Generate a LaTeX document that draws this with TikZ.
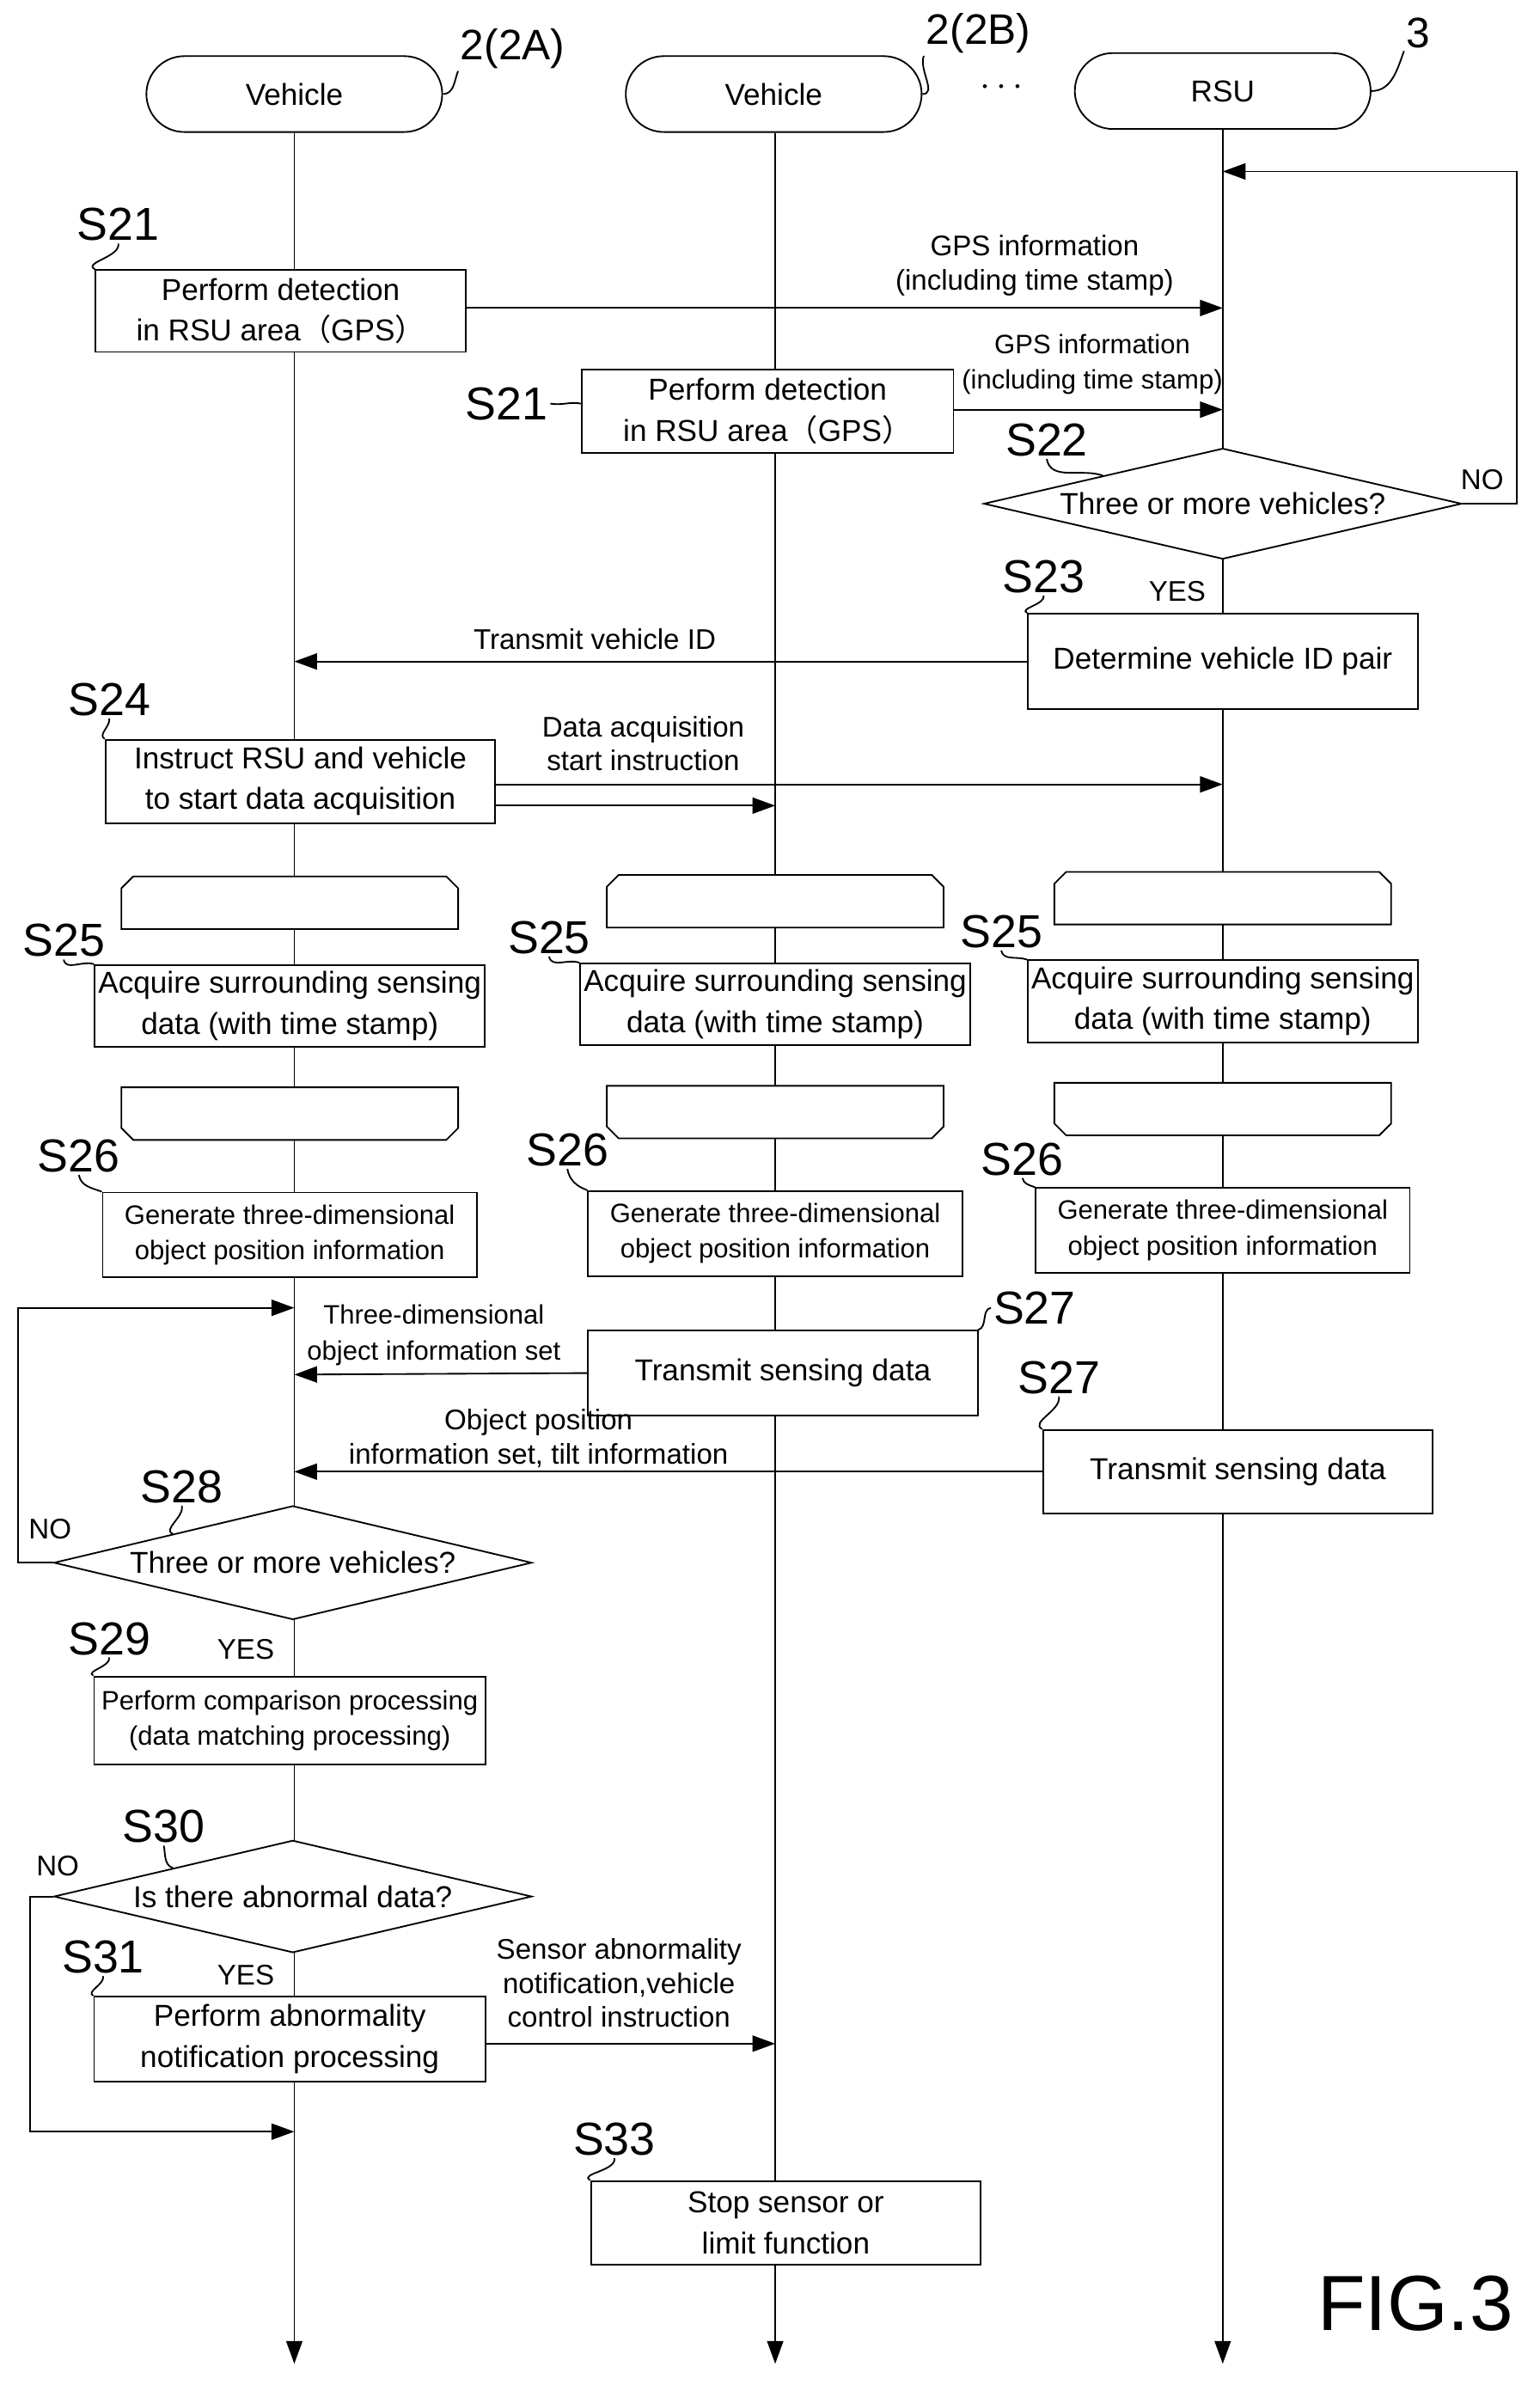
\documentclass[tikz,border=0pt]{standalone}
\usepackage{fontspec}
\setmainfont{Liberation Sans}
\newfontfamily\cjk{Noto Sans CJK SC}
\usetikzlibrary{shapes.geometric,shapes.misc,arrows.meta}
\begin{document}
\begin{tikzpicture}[x=0.3mm,y=-0.3mm,>={Triangle[length=4.5mm,width=3.2mm]},line width=0.9pt]
\tikzstyle{block}=[rectangle,draw,fill=white,align=center,font=\fontsize{17}{23}\selectfont,inner sep=1pt]
\tikzstyle{smalltext}=[font=\fontsize{15}{20}\selectfont]
\tikzstyle{head}=[rectangle,draw,fill=white,rounded corners=7.5mm,minimum width=58.5mm,minimum height=15mm,font=\fontsize{17}{20}\selectfont]
\tikzstyle{decision}=[diamond,draw,fill=white,inner sep=0pt,minimum width=94.5mm]
\tikzstyle{loopstart}=[chamfered rectangle,chamfered rectangle corners={north west,north east},chamfered rectangle xsep=2.5mm,draw,fill=white,minimum width=66.6mm,minimum height=10.4mm]
\tikzstyle{loopend}=[chamfered rectangle,chamfered rectangle corners={south west,south east},chamfered rectangle xsep=2.5mm,draw,fill=white,minimum width=66.6mm,minimum height=10.4mm]
\tikzstyle{annot}=[align=center,font=\fontsize{16}{19}\selectfont,inner sep=1pt]
\tikzstyle{steplbl}=[font=\fontsize{26}{26}\selectfont,inner sep=1pt]
\useasboundingbox (0,0) rectangle (1015,1572);
% headers
\node[head] (va) at (194,62) {Vehicle};
\node[head] (vb) at (510,62) {Vehicle};
\node[head] (rsu) at (806,60) {RSU};
\coordinate (va-end) at (194,1558);
\coordinate (vb-end) at (511,1558);
\coordinate (rsu-end) at (806,1558);
\draw[->] (va) -- (va-end);
\draw[->] (vb.south -| vb-end) -- (vb-end);
\draw[->] (rsu) -- (rsu-end);
\node[steplbl,font=\fontsize{24}{24}\selectfont] (lbl-a) at (338,32) {2(2A)};
\node[steplbl,font=\fontsize{24}{24}\selectfont] (lbl-b) at (645,22) {2(2B)};
\node[font=\fontsize{22}{22}\selectfont] (dots) at (660,58) {$\cdots$};
\node[steplbl,font=\fontsize{24}{24}\selectfont] (lbl-r) at (935,22) {3};
\draw (va.east) to[out=0,in=-110] (lbl-a.south west);
\draw (vb.east) to[out=0,in=-110] (lbl-b.south west);
\draw (rsu.east) to[out=0,in=-110] (lbl-r.south west);
% S21, S22
\node[block,minimum width=73.2mm,minimum height=16.2mm] (s21a) at (185,205) {Perform detection\\in RSU area{\cjk （}GPS{\cjk ）}};
\node[block,minimum width=73.5mm,minimum height=16.5mm] (s21b) at (506,271) {Perform detection\\in RSU area{\cjk （}GPS{\cjk ）}};
\node[decision,minimum height=21.9mm] (s22) at (806,332) {};
\node[block,draw=none,fill=none] (s22-t) at (s22) {Three or more vehicles?};
\coordinate (rsu-gps1) at (806,203);
\coordinate (rsu-gps2) at (806,270);
\draw[->] (s21a.east |- rsu-gps1) -- (rsu-gps1);
\draw[->] (s21b.east |- rsu-gps2) -- (rsu-gps2);
\node[annot] (gps1) at (682,175) {GPS information\\(including time stamp)};
\node[annot,smalltext] (gps2) at (720,240) {GPS information\\(including time stamp)};
\coordinate (loop1a) at (1000,332);
\coordinate (loop1b) at (1000,113);
\coordinate (loop1c) at (806,113);
\draw[->] (s22.east) -- (loop1a) -- (loop1b) -- (loop1c);
\node[annot] (no1) at (977,316) {NO};
\node[annot] (yes1) at (776,390) {YES};
\node[steplbl] (l21a) at (78,148) {S21};
\node[steplbl] (l21b) at (334,266) {S21};
\node[steplbl] (l22) at (690,290) {S22};
\draw (l21a.south) to[out=-80,in=150] (s21a.north west);
\draw (l21b.east) to[out=-10,in=170] (s21b.west |- l21b);
\draw (l22.south) to[out=-80,in=160] (s22.north west);
% S23, S24
\node[block,minimum width=77.1mm,minimum height=18.9mm] (s23) at (806,436) {Determine vehicle ID pair};
\node[steplbl] (l23) at (688,380) {S23};
\draw (l23.south) to[out=-80,in=150] (s23.north west);
\coordinate (va-id) at (194,436);
\draw[->] (s23.west) -- (va-id);
\node[annot] (tid) at (392,421) {Transmit vehicle ID};
\node[block,minimum width=77.1mm,minimum height=16.5mm] (s24) at (198,515) {Instruct RSU and vehicle\\to start data acquisition};
\node[steplbl] (l24) at (72,461) {S24};
\draw (l24.south) to[out=-80,in=150] (s24.north west);
\coordinate (rsu-st) at (806,517);
\coordinate (vb-st) at (511,531);
\draw[->] (s24.east |- rsu-st) -- (rsu-st);
\draw[->] (s24.east |- vb-st) -- (vb-st);
\node[annot] (dai) at (424,490) {Data acquisition\\start instruction};
% S25, S26 loops
\foreach \n/\y/\bx in {a/0/191,b/-1/511,r/-3/806}{
  \node[loopstart] (ls-\n) at (\bx,595+\y) {};
  \node[block,minimum width=77.1mm,minimum height=16.2mm] (s25\n) at (\bx,663+\y) {Acquire surrounding sensing\\data (with time stamp)};
  \node[loopend] (le-\n) at (\bx,734+\y) {};
  \node[block,smalltext,minimum width=74mm,minimum height=16.8mm] (s26\n) at (\bx,814+\y) {Generate three-dimensional\\object position information};
}
\node[steplbl] (l25a) at (42,620) {S25};
\node[steplbl] (l25b) at (362,618) {S25};
\node[steplbl] (l25r) at (660,614) {S25};
\node[steplbl] (l26a) at (52,762) {S26};
\node[steplbl] (l26b) at (374,758) {S26};
\node[steplbl] (l26r) at (674,764) {S26};
\foreach \n in {a,b,r}{
  \draw (l25\n.south) to[out=-80,in=160] (s25\n.north west);
  \draw (l26\n.south) to[out=-80,in=160] (s26\n.north west);
}
% S27
\node[block,minimum width=77.1mm,minimum height=16.8mm] (s27b) at (516,905) {Transmit sensing data};
\node[block,minimum width=77.1mm,minimum height=16.5mm] (s27r) at (816,970) {Transmit sensing data};
\node[steplbl] (l27b) at (682,862) {S27};
\node[steplbl] (l27r) at (698,908) {S27};
\draw (l27b.west) to[out=190,in=20] (s27b.north east);
\draw (l27r.south) to[out=-80,in=150] (s27r.north west);
\coordinate (va-3d) at (194,906);
\coordinate (va-op) at (194,970);
\draw[->] (s27b.west) -- (va-3d);
\draw[->] (s27r.west) -- (va-op);
\node[annot,smalltext] (set3d) at (286,880) {Three-dimensional\\object information set};
\node[annot] (setop) at (355,948) {Object position\\information set, tilt information};
% S28, S29
\node[decision,minimum height=22.5mm] (s28) at (193,1030) {};
\node[block,draw=none,fill=none] (s28-t) at (s28) {Three or more vehicles?};
\node[steplbl] (l28) at (120,980) {S28};
\draw (l28.south) to[out=-80,in=160] (s28.north west);
\coordinate (loop2a) at (12,1030);
\coordinate (loop2b) at (12,862);
\coordinate (loop2c) at (194,862);
\draw[->] (s28.west) -- (loop2a) -- (loop2b) -- (loop2c);
\node[annot] (no2) at (33,1008) {NO};
\node[annot] (yes2) at (162,1087) {YES};
\node[block,smalltext,minimum width=77.4mm,minimum height=17.4mm] (s29) at (191,1134) {Perform comparison processing\\(data matching processing)};
\node[steplbl] (l29) at (72,1080) {S29};
\draw (l29.south) to[out=-80,in=150] (s29.north west);
% S30, S31, S33
\node[decision,minimum height=22.2mm] (s30) at (193,1250) {};
\node[block,draw=none,fill=none] (s30-t) at (s30) {Is there abnormal data?};
\node[steplbl] (l30) at (108,1204) {S30};
\draw (l30.south) to[out=-80,in=160] (s30.north west);
\coordinate (loop3a) at (20,1250);
\coordinate (loop3b) at (20,1405);
\coordinate (loop3c) at (194,1405);
\draw[->] (s30.west) -- (loop3a) -- (loop3b) -- (loop3c);
\node[annot] (no3) at (38,1230) {NO};
\node[annot] (yes3) at (162,1302) {YES};
\node[block,minimum width=77.4mm,minimum height=16.8mm] (s31) at (191,1344) {Perform abnormality\\notification processing};
\node[steplbl] (l31) at (68,1290) {S31};
\draw (l31.south) to[out=-80,in=150] (s31.north west);
\coordinate (vb-ab) at (511,1347);
\draw[->] (s31.east |- vb-ab) -- (vb-ab);
\node[annot] (sab) at (408,1307) {Sensor abnormality\\notification,vehicle\\control instruction};
\node[block,minimum width=77.1mm,minimum height=16.5mm] (s33) at (518,1465) {Stop sensor or\\limit function};
\node[steplbl] (l33) at (405,1410) {S33};
\draw (l33.south) to[out=-80,in=150] (s33.north west);
\node[font=\fontsize{44}{44}\selectfont] (fig) at (933,1518) {FIG.3};
\end{tikzpicture}
\end{document}
